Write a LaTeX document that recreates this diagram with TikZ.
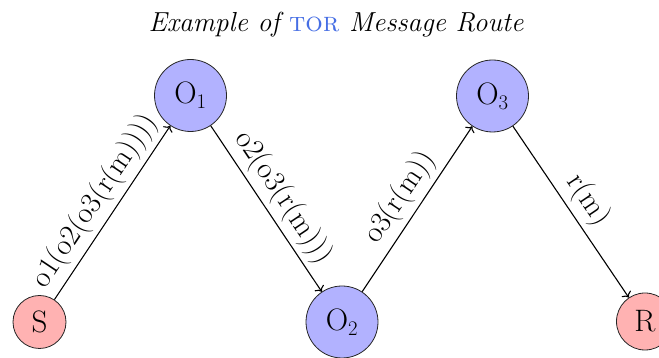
\documentclass[tikz,border=0pt]{standalone}
\usetikzlibrary{arrows.meta}
\definecolor{torblue}{RGB}{70,110,228}
\tikzset{
  relay/.style={circle, draw=black!85, line width=0.8pt, fill=blue!30,
    minimum size=72pt, inner sep=0pt, font=\fontsize{31}{34}\selectfont},
  endpoint/.style={circle, draw=black!85, line width=0.8pt, fill=red!30,
    inner sep=0pt, font=\fontsize{31}{34}\selectfont},
  hop/.style={line width=1.1pt, -{To[length=5pt,width=11pt]}},
  payload/.style={sloped, above, midway, inner sep=5pt,
    font=\fontsize{30}{32}\selectfont},
}
\begin{document}
\begin{tikzpicture}[x=1pt,y=1pt]
  \useasboundingbox (0,0) rectangle (659,358);
  \begin{scope}
    \clip (0,0) rectangle (659,358);
    \node[anchor=base, font=\fontsize{27.5}{32}\selectfont\itshape] (title) at (336,326)
      {Example of \textcolor{torblue}{\textup{\textsc{tor}}} Message Route};

    \node[endpoint, minimum size=53pt] (S) at (39.5,36) {S};
    \node[relay] (O1) at (190.5,262.5) {O$_1$};
    \node[relay] (O2) at (342,36) {O$_2$};
    \node[relay] (O3) at (492.5,262) {O$_3$};
    \node[endpoint, minimum size=57pt] (R) at (645,36.5) {R};

    \draw[hop] (S) -- node[payload] {o1(o2(o3(r(m))))} (O1);
    \draw[hop] (O1) -- node[payload] {o2(o3(r(m)))} (O2);
    \draw[hop] (O2) -- node[payload] {o3(r(m))} (O3);
    \draw[hop] (O3) -- node[payload] {r(m)} (R);
  \end{scope}
\end{tikzpicture}
\end{document}
